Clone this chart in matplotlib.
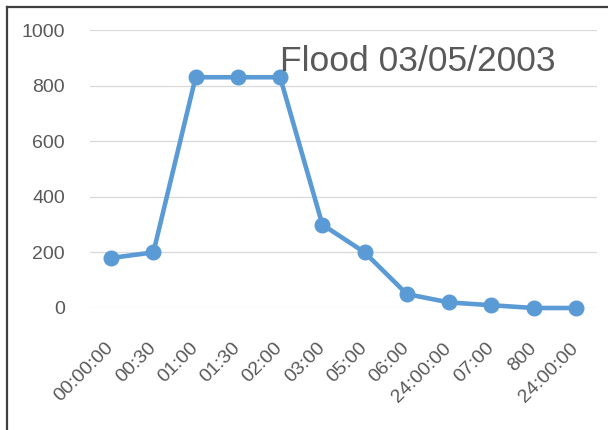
import matplotlib
matplotlib.use("Agg")
import matplotlib.pyplot as plt
from matplotlib.lines import Line2D

# Flood hydrograph, 03/05/2003
time_labels = ["00:00:00", "00:30", "01:00", "01:30", "02:00", "03:00",
               "05:00", "06:00", "24:00:00", "07:00", "800", "24:00:00"]
discharge = [180, 200, 830, 830, 830, 300, 200, 50, 20, 10, 0, 0]
y_ticks = [0, 200, 400, 600, 800, 1000]
chart_title = "Flood 03/05/2003"

plt.rcParams["font.family"] = ["Liberation Sans", "DejaVu Sans"]

fig = plt.figure(figsize=(6.08, 4.30), dpi=100)
fig.patch.set_facecolor("white")
W, H = 608, 430
left, right, top, bottom = 90, 597, 30, 308
ax = fig.add_axes([left / W, (H - bottom) / H, (right - left) / W, (bottom - top) / H])

x = list(range(len(discharge)))
ax.plot(x, discharge, color="#5B9BD5", lw=3.3, marker="o", ms=10.5,
        solid_joinstyle="round", clip_on=False, zorder=3)

ax.set_xlim(-0.5, len(discharge) - 0.5)
ax.set_ylim(0, 1000)
ax.set_yticks(y_ticks)
ax.set_yticklabels([str(v) for v in y_ticks])
ax.set_xticks(x)
ax.set_xticklabels(time_labels, rotation=45, ha="right", va="center",
                   rotation_mode="anchor")

ax.grid(axis="y", color="#D9D9D9", lw=0.9)
ax.set_axisbelow(True)
for s in ax.spines.values():
    s.set_visible(False)
ax.tick_params(axis="both", length=0, colors="#595959", labelsize=14)
ax.tick_params(axis="x", pad=27)
ax.tick_params(axis="y", pad=18)

ax.text((280 - left) / (right - left), (bottom - 71) / (bottom - top), chart_title,
        transform=ax.transAxes, fontsize=25.5, color="#595959",
        ha="left", va="baseline", zorder=4)

# frame lines along the top and left edges
fig.add_artist(Line2D([7 / W, 1.0], [1 - 7 / H, 1 - 7 / H], color="#3F3F3F", lw=1.6,
                      transform=fig.transFigure))
fig.add_artist(Line2D([7 / W, 7 / W], [0.0, 1 - 7 / H], color="#3F3F3F", lw=1.6,
                      transform=fig.transFigure))

fig.savefig("out.png", dpi=100, facecolor="white")
